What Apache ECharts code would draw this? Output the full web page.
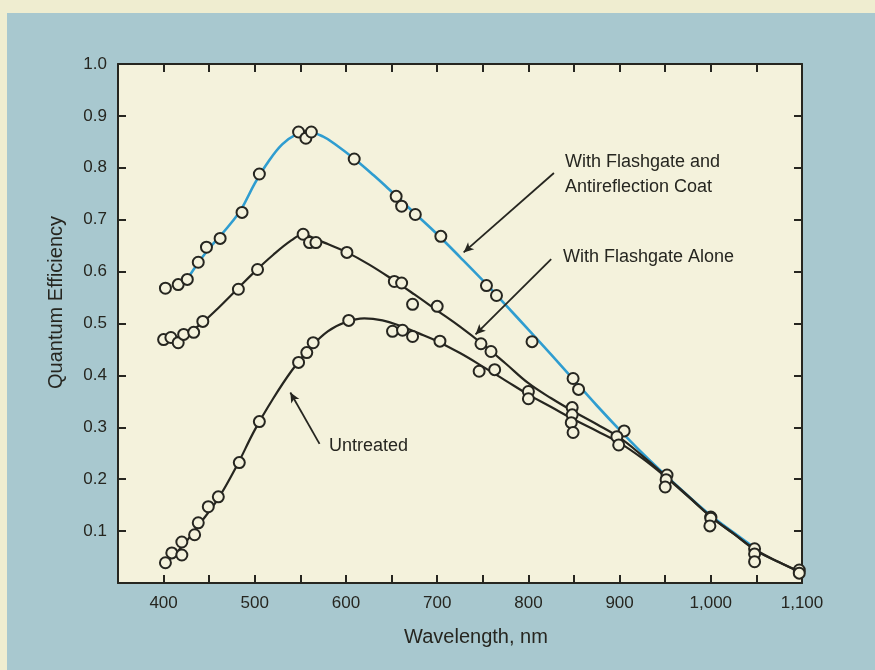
<!DOCTYPE html>
<html>
<head>
<meta charset="utf-8">
<script src="https://cdn.jsdelivr.net/npm/echarts@6/dist/echarts.min.js"></script>
<style>
  html, body { margin: 0; padding: 0; background: #efedd0; }
  #panel { position: absolute; left: 7px; top: 13px; width: 868px; height: 657px; background: #a8c8cf; }
  #main { position: absolute; left: 0; top: 0; width: 875px; height: 670px; }
</style>
</head>
<body>
<div id="panel"></div>
<div id="main"></div>
<script>
// tick labels
const xTicks = [400, 500, 600, 700, 800, 900, 1000, 1100];
const yTicks = [0.1, 0.2, 0.3, 0.4, 0.5, 0.6, 0.7, 0.8, 0.9, 1.0];

// measured points [wavelength nm, quantum efficiency]
const coatPoints = [
  [402, 0.568], [416, 0.575], [426, 0.585], [438, 0.618], [447, 0.647], [462, 0.664],
  [486, 0.714], [505, 0.788], [548, 0.869], [556, 0.857], [562, 0.869], [609, 0.817],
  [655, 0.745], [661, 0.726], [676, 0.710], [704, 0.668], [754, 0.573], [765, 0.554],
  [804, 0.465], [849, 0.394], [855, 0.373], [905, 0.293], [952, 0.208], [1000, 0.127],
  [1048, 0.066], [1097, 0.025]
];
const alonePoints = [
  [400, 0.469], [408, 0.473], [416, 0.463], [422, 0.479], [433, 0.483], [443, 0.504],
  [482, 0.566], [503, 0.604], [553, 0.672], [560, 0.656], [567, 0.656], [601, 0.637],
  [653, 0.581], [661, 0.578], [673, 0.537], [700, 0.533], [748, 0.461], [759, 0.446],
  [800, 0.369], [848, 0.338], [848, 0.324], [897, 0.282], [951, 0.199], [1000, 0.125],
  [1048, 0.056], [1097, 0.019]
];
const untreatedPoints = [
  [402, 0.039], [409, 0.058], [420, 0.079], [420, 0.054], [434, 0.093], [438, 0.116],
  [449, 0.147], [460, 0.166], [483, 0.232], [505, 0.311], [548, 0.425], [557, 0.444],
  [564, 0.463], [603, 0.506], [651, 0.485], [662, 0.487], [673, 0.475], [703, 0.466],
  [746, 0.408], [763, 0.411], [800, 0.355], [847, 0.309], [849, 0.290], [899, 0.266],
  [950, 0.185], [999, 0.110], [1048, 0.041]
];

// fitted curves
const coatCurve = [
  [425, 0.583], [440, 0.622], [455, 0.655], [470, 0.685], [485, 0.72], [500, 0.77],
  [515, 0.812], [530, 0.845], [545, 0.864], [558, 0.869], [575, 0.86], [590, 0.843],
  [610, 0.816], [630, 0.786], [650, 0.754], [675, 0.713], [700, 0.672], [725, 0.628],
  [750, 0.583], [775, 0.536], [800, 0.488], [825, 0.44], [850, 0.391], [875, 0.342],
  [900, 0.295], [925, 0.25], [950, 0.208], [975, 0.168], [1000, 0.13], [1025, 0.097],
  [1050, 0.065]
];
const aloneCurve = [
  [398, 0.47], [410, 0.472], [425, 0.48], [440, 0.498], [460, 0.53], [480, 0.565],
  [500, 0.6], [520, 0.632], [540, 0.66], [553, 0.672], [565, 0.664], [580, 0.653],
  [600, 0.638], [625, 0.614], [650, 0.586], [675, 0.556], [700, 0.525], [725, 0.494],
  [750, 0.46], [775, 0.423], [800, 0.385], [825, 0.356], [850, 0.33], [875, 0.306],
  [900, 0.28], [925, 0.245], [950, 0.207], [975, 0.168], [1000, 0.128], [1025, 0.095],
  [1050, 0.063], [1075, 0.04], [1097, 0.022]
];
const untreatedCurve = [
  [400, 0.035], [420, 0.07], [440, 0.115], [460, 0.163], [480, 0.225], [500, 0.295],
  [520, 0.355], [540, 0.408], [560, 0.452], [580, 0.485], [600, 0.503], [620, 0.51],
  [640, 0.506], [660, 0.495], [680, 0.481], [700, 0.466], [725, 0.443], [750, 0.417],
  [775, 0.39], [800, 0.363], [825, 0.339], [850, 0.315], [875, 0.293], [900, 0.27],
  [925, 0.24], [950, 0.205], [975, 0.167], [1000, 0.128], [1025, 0.095], [1050, 0.062],
  [1075, 0.04], [1097, 0.022]
];

// annotation arrows: [tail, head] in data coords
const coatArrow = [[828, 0.79], [729, 0.637]];
const aloneArrow = [[825, 0.624], [742, 0.479]];
const untreatedArrow = [[571, 0.268], [539, 0.367]];

const ink = '#262620';
const font = '"Liberation Sans", Arial, sans-serif';

function xAxisBase(pos) {
  return {
    type: 'value', position: pos, min: 350, max: 1100, interval: 50,
    axisLine: { onZero: false, lineStyle: { color: ink, width: 2 } },
    axisTick: { inside: true, length: 8, lineStyle: { color: ink, width: 2 } },
    splitLine: { show: false }
  };
}
function yAxisBase(pos) {
  return {
    type: 'value', position: pos, min: 0, max: 1, interval: 0.1,
    axisLine: { onZero: false, lineStyle: { color: ink, width: 2 } },
    axisTick: { inside: true, length: 8, lineStyle: { color: ink, width: 2 } },
    splitLine: { show: false }
  };
}

function arrowLine(arrow) {
  return [{ coord: arrow[0] }, { coord: arrow[1] }];
}

let myChart = echarts.init(document.getElementById('main'));
myChart.setOption({
  animation: false,
  backgroundColor: 'transparent',
  grid: {
    left: 118, right: 73, top: 64, bottom: 87,
    show: true, backgroundColor: '#f4f2dc', borderWidth: 0
  },
  xAxis: [
    Object.assign(xAxisBase('bottom'), {
      name: 'Wavelength, nm',
      nameLocation: 'middle',
      nameGap: 44,
      nameTextStyle: { fontSize: 20, color: ink, fontFamily: font, padding: [0, 0, 0, 32] },
      axisLabel: {
        fontSize: 17, color: ink, fontFamily: font, margin: 12,
        formatter: v => xTicks.indexOf(v) >= 0 ? v.toLocaleString('en-US') : ''
      }
    }),
    Object.assign(xAxisBase('top'), { axisLabel: { show: false } })
  ],
  yAxis: [
    Object.assign(yAxisBase('left'), {
      name: 'Quantum Efficiency',
      nameLocation: 'middle',
      nameGap: 52,
      nameTextStyle: { fontSize: 20, color: ink, fontFamily: font, padding: [0, 0, 0, 42] },
      axisLabel: {
        fontSize: 17, color: ink, fontFamily: font, margin: 11,
        formatter: v => {
          const t = yTicks.find(k => Math.abs(k - v) < 1e-6);
          return t === undefined ? '' : t.toFixed(1);
        }
      }
    }),
    Object.assign(yAxisBase('right'), { axisLabel: { show: false } })
  ],
  series: [
    {
      name: 'With Flashgate and Antireflection Coat', type: 'line', data: coatCurve,
      smooth: 0.4, showSymbol: false, z: 2,
      lineStyle: { color: '#2f9dd0', width: 2.6 },
      markLine: {
        silent: true, symbol: ['none', 'arrow'], symbolSize: [7, 10],
        lineStyle: { color: ink, width: 1.8, type: 'solid' }, label: { show: false },
        data: [arrowLine(coatArrow), arrowLine(aloneArrow), arrowLine(untreatedArrow)]
      }
    },
    {
      name: 'With Flashgate Alone', type: 'line', data: aloneCurve,
      smooth: 0.4, showSymbol: false, z: 2,
      lineStyle: { color: ink, width: 2.2 }
    },
    {
      name: 'Untreated', type: 'line', data: untreatedCurve,
      smooth: 0.4, showSymbol: false, z: 2,
      lineStyle: { color: ink, width: 2.2 }
    },
    ...[coatPoints, alonePoints, untreatedPoints].map(pts => ({
      type: 'scatter', data: pts, symbol: 'circle', symbolSize: 11, z: 5,
      itemStyle: { color: '#f4f2dc', borderColor: ink, borderWidth: 2, opacity: 1 }
    }))
  ],
  graphic: [
    { type: 'text', left: 565, top: 150, style: { text: 'With Flashgate and\nAntireflection Coat', font: '18px ' + font, fill: ink, lineHeight: 25 } },
    { type: 'text', left: 563, top: 248, style: { text: 'With Flashgate Alone', font: '18px ' + font, fill: ink } },
    { type: 'text', left: 329, top: 437, style: { text: 'Untreated', font: '18px ' + font, fill: ink } }
  ]
});
</script>
</body>
</html>
